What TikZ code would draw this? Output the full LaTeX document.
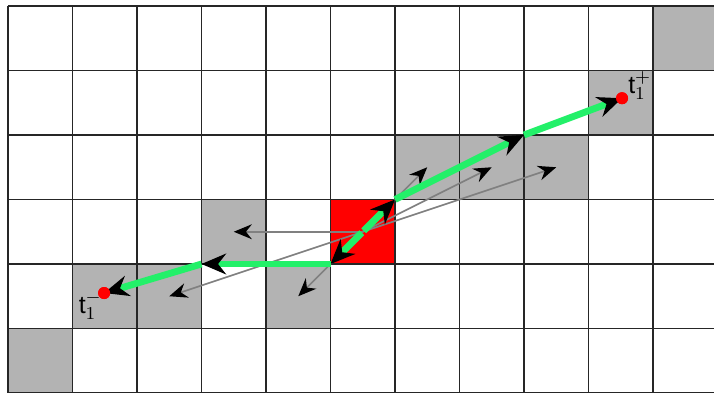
\documentclass[tikz,border=0pt]{standalone}
\usepackage{fontspec}
\setmainfont{Liberation Sans}
\usetikzlibrary{arrows.meta}
\definecolor{cellgray}{RGB}{179,179,179}
\definecolor{pathgreen}{RGB}{35,240,105}
\definecolor{raygray}{RGB}{128,128,128}
\tikzstyle{every node}=[font=\fontsize{11}{13}\selectfont]
\newcommand{\graycell}[2]{\fill[cellgray] (#1,-#2) rectangle +(1,-1);}

\begin{document}
\begin{tikzpicture}
		\tikzstyle{ray} = [draw=raygray, line width=0.75pt, -{Stealth[length=2.8mm, width=2.3mm, color=black]}]
		\tikzstyle{track} = [draw=pathgreen, line width=3pt, -{Stealth[length=3.8mm, width=3.2mm, color=black]}]
		\tikzstyle{dot} = [circle, fill=red, inner sep=0pt, minimum size=5.3pt]
		
		\useasboundingbox (-0.124,0.093) rectangle (10.946,-5.985);
		\clip (-0.124,0.093) rectangle (10.946,-5.985);
		
		% occupied cells
		\graycell{10}{0}
		\graycell{9}{1}
		\graycell{6}{2}
		\graycell{7}{2}
		\graycell{8}{2}
		\graycell{3}{3}
		\graycell{1}{4}
		\graycell{2}{4}
		\graycell{4}{4}
		\graycell{0}{5}
		\fill[red] (5,-3) rectangle +(1,-1);
		
		\draw[black!85, line width=0.75pt] (0,0) grid (11,-6);
		
		\coordinate (ctr) at (5.5,-3.5);
		\coordinate (hitW) at (3.5,-3.5);
		\coordinate (hitSW) at (2.5,-4.5);
		\coordinate (hitS) at (4.5,-4.5);
		\coordinate (hitN) at (6.5,-2.5);
		\coordinate (hitNE) at (7.5,-2.5);
		\coordinate (hitE) at (8.5,-2.5);
		
		\coordinate (k1) at (8,-2);
		\coordinate (k2) at (6,-3);
		\coordinate (k3) at (5,-4);
		\coordinate (k4) at (3,-4);
		
		\node[dot] (tplus) at (9.52,-1.43) {};
		\node[dot] (tminus) at (1.49,-4.45) {};
		
		% rays
		\draw[ray] (ctr) -- (hitW);
		\draw[ray] (ctr) -- (hitSW);
		\draw[ray] (ctr) -- (hitS);
		\draw[ray] (ctr) -- (hitN);
		\draw[ray] (ctr) -- (hitNE);
		\draw[ray] (ctr) -- (hitE);
		
		% path
		\draw[track] (k1) -- (tplus.center);
		\draw[track] (k2) -- (k1);
		\draw[track, shorten <=0.6pt] (ctr) -- (k2);
		\draw[track, shorten <=0.6pt] (ctr) -- (k3);
		\draw[track] (k3) -- (k4);
		\draw[track] (k4) -- (tminus.center);
		
		\node[dot] at (tplus) {};
		\node[dot] at (tminus) {};
		
		\node[anchor=base west, inner sep=0pt] (lplus) at ([shift={(0.09,0.08)}]tplus.center) {t$_1^{\mathbf{+}}$};
		\node[anchor=base west, inner sep=0pt] (lminus) at ([shift={(-0.40,-0.31)}]tminus.center) {t$_1^{\mathbf{-}}$};
		
	\end{tikzpicture}
\end{document}
